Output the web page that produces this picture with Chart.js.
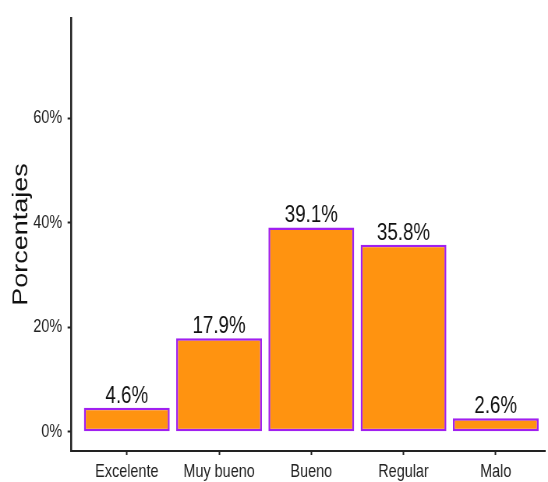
<!DOCTYPE html>
<html>
<head>
<meta charset="utf-8">
<script src="https://cdn.jsdelivr.net/npm/chart.js@4.4.1/dist/chart.umd.min.js"></script>
<style>
  html, body { margin: 0; padding: 0; background: #fff; overflow: hidden; }
  /* the reference is squeezed horizontally, so draw wider and squeeze */
  #wrap { width: 703px; height: 482px; transform: scaleX(0.77952); transform-origin: 0 0; }
</style>
</head>
<body>
<div id="wrap"><canvas id="barChart" width="703" height="482"></canvas></div>
<script>
// data
var categories = ["Excelente", "Muy bueno", "Bueno", "Regular", "Malo"];
var values = [4.6, 17.9, 39.1, 35.8, 2.6];
var yTicks = [0, 20, 40, 60];

var FONT = "'Liberation Sans', Arial, sans-serif";

// value labels over the bars
var barLabels = {
  id: 'barLabels',
  afterDatasetsDraw: function(chart) {
    var ctx = chart.ctx;
    var meta = chart.getDatasetMeta(0);
    ctx.save();
    ctx.font = "24px " + FONT;
    ctx.fillStyle = '#111';
    ctx.textAlign = 'center';
    ctx.textBaseline = 'alphabetic';
    meta.data.forEach(function(bar, i) {
      ctx.fillText(values[i].toFixed(1) + '%', bar.x, bar.y - 5);
    });
    ctx.restore();
  }
};

var ctxB = document.getElementById("barChart").getContext('2d');
var myBarChart = new Chart(ctxB, {
  type: 'bar',
  data: {
    datasets: [{
      data: categories.map(function(c, i) { return { x: i, y: values[i] }; }),
      backgroundColor: '#FF9310',
      borderColor: '#A020F0',
      borderWidth: 2.5,
      borderSkipped: false,
      barPercentage: 0.93,
      categoryPercentage: 1
    }]
  },
  options: {
    responsive: false,
    animation: false,
    layout: { padding: { top: 12, right: 4, bottom: 0, left: 0 } },
    plugins: { legend: { display: false }, tooltip: { enabled: false } },
    scales: {
      x: {
        type: 'linear',
        offset: false,
        min: -0.6,
        max: 4.533,
        afterBuildTicks: function(s) { s.ticks = categories.map(function(c, i) { return { value: i }; }); },
        afterFit: function(s) { s.height = 31; },
        ticks: {
          autoSkip: false,
          maxRotation: 0,
          padding: 6,
          color: '#222',
          font: { family: FONT, size: 18.5 },
          callback: function(v) { return categories[v]; }
        },
        grid: { display: true, offset: false, drawOnChartArea: false, drawTicks: true, tickLength: 4, tickColor: '#222', tickWidth: 2 },
        border: { display: true, color: '#222', width: 2 }
      },
      y: {
        min: -3.68,
        max: 79.15,
        afterBuildTicks: function(s) { s.ticks = yTicks.map(function(v) { return { value: v }; }); },
        afterFit: function(s) { s.width = 91.7; },
        ticks: {
          padding: 7,
          color: '#222',
          font: { family: FONT, size: 18.5 },
          callback: function(v) { return v + '%'; }
        },
        grid: { display: true, drawOnChartArea: false, drawTicks: true, tickLength: 5, tickColor: '#222', tickWidth: 2 },
        border: { display: true, color: '#222', width: 2.5 },
        title: {
          display: true,
          text: 'Porcentajes',
          color: '#111',
          font: { family: FONT, size: 27 },
          padding: { top: 11, bottom: 0 }
        }
      }
    }
  },
  plugins: [barLabels]
});
</script>
</body>
</html>
